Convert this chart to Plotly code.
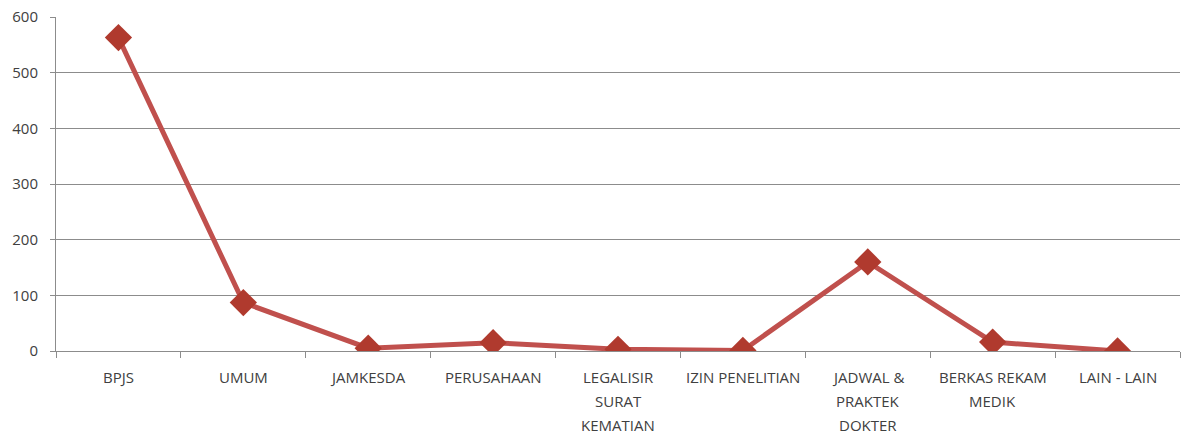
import plotly.graph_objects as go

categories = ["BPJS", "UMUM", "JAMKESDA", "PERUSAHAAN", "LEGALISIR SURAT KEMATIAN",
              "IZIN PENELITIAN", "JADWAL & PRAKTEK DOKTER", "BERKAS REKAM MEDIK", "LAIN - LAIN"]
label_lines = [["BPJS"], ["UMUM"], ["JAMKESDA"], ["PERUSAHAAN"], ["LEGALISIR", "SURAT", "KEMATIAN"],
               ["IZIN PENELITIAN"], ["JADWAL &", "PRAKTEK", "DOKTER"], ["BERKAS REKAM", "MEDIK"], ["LAIN - LAIN"]]
values = [563, 87, 5, 15, 3, 1, 160, 16, 0]
y_ticks = [0, 100, 200, 300, 400, 500, 600]

fig = go.Figure()
fig.add_trace(go.Scatter(
    x=categories, y=values, mode="lines+markers",
    line=dict(color="#C0504D", width=5),
    marker=dict(symbol="diamond", size=21, color="#B03A2E", line=dict(width=0)),
    showlegend=False,
))

annotations = []
for cat, lines in zip(categories, label_lines):
    for i, txt in enumerate(lines):
        annotations.append(dict(
            x=cat, y=0, xref="x", yref="paper", text=txt, showarrow=False,
            yanchor="middle", xanchor="center", yshift=-(26 + 24 * i),
            font=dict(size=15, color="#404040"),
        ))

fig.update_layout(
    width=1184, height=434,
    margin=dict(l=56, r=4, t=17, b=83),
    paper_bgcolor="white", plot_bgcolor="white",
    font=dict(family="Open Sans, Liberation Sans, sans-serif", size=15, color="#404040"),
    annotations=annotations,
    xaxis=dict(
        type="category", tickson="boundaries", ticks="outside", ticklen=6,
        tickcolor="#8c8c8c", showline=True, linecolor="#8c8c8c", linewidth=1,
        showgrid=False, showticklabels=False, range=[-0.5, 8.5],
    ),
    yaxis=dict(
        range=[0, 600], tickvals=y_ticks, ticks="outside", ticklen=5,
        tickcolor="#8c8c8c", showline=True, linecolor="#8c8c8c", linewidth=1,
        showgrid=True, gridcolor="#8c8c8c", gridwidth=1, zeroline=False,
        tickfont=dict(size=15), ticklabelstandoff=9,
    ),
)

fig.write_html("out.html", config={"displayModeBar": False},
               post_script="document.body.style.margin='0';document.body.style.overflow='hidden';")
